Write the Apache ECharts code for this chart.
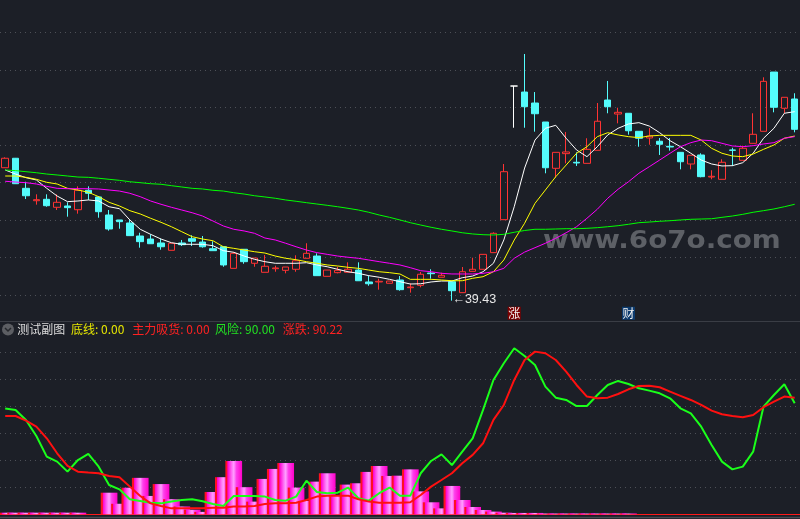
<!DOCTYPE html>
<html><head><meta charset="utf-8">
<script src="https://cdn.jsdelivr.net/npm/echarts@6/dist/echarts.min.js"></script>
<style>html,body{margin:0;padding:0;background:#1c1f27;}#c{width:800px;height:519px;}</style>
</head><body><div id="c"></div>
<script>
// ---- K-line data (open, close, low, high) ----
const opens = [53.58,54.59,51.39,50.07,50.22,49.37,49.51,49.11,51.18,50.47,48.55,48.02,47.70,46.31,45.99,45.57,44.79,45.57,46.03,45.67,44.96,45.17,42.87,44.90,43.41,42.45,42.83,42.66,42.77,43.94,44.18,42.02,42.41,42.45,42.69,41.42,41.42,41.28,41.63,40.81,41.06,42.37,41.92,41.45,40.28,42.55,42.77,44.54,48.05,62.28,61.64,60.47,58.45,53.52,55.08,54.16,54.05,55.44,60.79,59.30,59.38,57.46,56.75,56.40,55.86,55.22,53.98,54.94,52.59,52.35,55.47,54.37,56.18,57.46,63.77,59.91,60.90];
const closes = [54.59,51.88,50.60,50.18,49.54,49.90,49.33,51.18,50.86,48.90,47.06,47.84,46.35,45.71,45.49,45.17,45.54,45.39,45.75,45.17,44.75,43.23,44.47,43.58,43.97,43.09,42.91,43.01,43.68,44.47,42.09,42.69,42.66,42.77,41.55,41.23,41.49,41.52,40.60,40.88,42.24,42.30,42.13,40.49,42.51,42.77,44.36,46.60,53.16,62.28,60.08,59.33,53.58,55.22,55.26,54.09,55.54,58.53,60.08,59.48,57.52,56.72,56.96,56.08,55.79,54.22,54.91,52.63,52.67,54.16,55.44,55.65,57.14,62.78,60.02,61.08,57.67];
const lows = [53.55,51.85,50.25,49.65,49.43,49.08,48.37,48.69,50.15,48.26,46.88,47.09,46.35,45.07,45.49,44.85,44.79,45.25,45.25,45.07,44.72,43.04,42.87,43.36,43.04,42.45,42.51,42.34,42.51,43.94,42.09,42.02,42.34,42.45,41.55,41.02,40.60,41.28,40.49,40.28,40.85,41.77,41.92,39.43,40.28,42.55,42.77,44.54,48.05,57.84,57.84,57.42,52.99,52.52,54.05,53.77,54.05,55.44,59.38,58.31,57.10,55.82,56.03,54.94,55.40,53.41,53.41,52.56,52.35,52.35,53.77,54.37,56.18,57.46,59.48,59.38,57.35];
const highs = [54.69,54.62,52.09,50.75,50.75,50.75,49.90,51.60,51.60,50.57,49.08,48.02,48.02,46.66,46.49,46.03,45.54,45.89,46.39,46.31,45.75,45.17,44.61,44.90,43.97,44.29,43.15,43.01,44.26,45.54,44.47,42.69,43.04,43.51,43.51,42.09,41.77,41.52,42.05,41.28,42.48,42.77,42.41,41.45,43.01,44.00,44.36,46.71,53.98,62.28,65.69,61.64,58.45,55.22,57.39,55.22,56.72,60.47,62.82,59.97,59.38,57.46,57.81,56.75,56.75,55.22,54.91,55.12,53.31,54.48,55.71,55.93,59.38,63.21,63.77,61.08,61.51];

// ---- moving averages ----
const ma5 = [53.34,52.91,52.52,52.28,51.39,50.57,49.97,50.04,50.15,50.04,49.43,49.22,48.02,47.03,46.49,45.99,45.60,45.43,45.43,45.43,45.28,44.75,44.58,44.18,43.83,43.58,43.41,43.41,43.41,43.47,43.23,43.04,42.77,42.51,42.34,42.09,41.92,41.70,41.45,41.20,41.23,41.42,41.52,41.52,41.87,42.05,42.51,43.41,45.89,49.43,53.55,56.53,57.78,58.10,56.72,55.47,54.76,55.82,57.07,57.78,58.24,58.38,58.02,57.31,56.46,55.82,55.12,54.40,53.98,53.77,53.80,54.12,55.12,56.72,57.78,59.38,59.55];
const ma10 = [52.70,52.70,52.56,52.35,52.03,51.85,51.39,51.21,50.97,50.50,49.90,49.51,49.01,48.66,48.20,47.77,47.30,46.77,46.24,45.99,45.81,45.17,45.00,44.82,44.64,44.50,44.18,43.94,43.79,43.58,43.41,43.23,43.12,42.98,42.87,42.69,42.51,42.41,42.27,41.70,41.70,41.70,41.63,41.55,41.55,41.81,41.98,42.51,43.76,45.89,47.67,49.79,51.21,52.63,53.87,55.12,55.82,56.89,57.31,57.07,56.89,56.78,56.96,57.03,57.03,57.03,57.03,56.53,55.65,55.12,54.83,54.76,55.04,55.54,56.00,56.72,56.96];
const ma20 = [52.14,52.06,51.99,51.85,51.60,51.39,51.35,51.35,51.35,51.32,51.21,51.10,50.86,50.50,50.04,49.69,49.37,49.08,48.79,48.44,47.91,47.38,47.03,46.85,46.60,46.10,45.89,45.54,45.17,44.82,44.54,44.36,44.18,44.05,43.94,43.76,43.58,43.41,43.23,42.94,42.62,42.51,42.34,42.27,42.27,42.27,42.34,42.51,42.87,43.94,44.60,45.07,45.54,46.07,46.66,47.30,48.20,49.16,50.33,51.29,52.09,52.99,53.69,54.40,55.12,55.82,56.25,56.53,56.46,56.18,55.90,55.82,55.93,56.11,56.25,56.72,56.89];
const ma60 = [53.34,53.27,53.16,53.05,52.91,52.81,52.70,52.59,52.56,52.46,52.35,52.24,52.09,51.99,51.88,51.82,51.67,51.53,51.39,51.32,51.18,51.10,50.92,50.78,50.60,50.47,50.33,50.15,50.01,49.86,49.72,49.58,49.43,49.26,49.08,48.84,48.55,48.30,48.02,47.73,47.48,47.24,47.03,46.85,46.66,46.53,46.45,46.42,46.49,46.71,46.90,47.03,47.03,47.06,47.09,47.09,47.13,47.20,47.30,47.41,47.56,47.73,47.80,47.88,47.94,48.02,48.09,48.12,48.15,48.30,48.44,48.62,48.84,49.01,49.19,49.43,49.69];

// ---- sub-chart indicator ----
const zhuLiXiHuo = [1.2,1.2,1.2,1.2,1.2,1.2,1.2,1.2,0,0,16.0,7.8,19.7,27.0,13.6,22.4,11.2,5.8,3.4,1.8,16.5,27.5,39.5,20.1,9.4,26.2,33.6,38.0,19.8,9.9,24.2,30.4,13.6,22.0,23.0,31.4,35.8,28.4,28.6,33.3,17.0,8.9,4.4,21.0,10.6,5.4,3.2,2.0,1.2,1.0,1.0,1.0,0.6,0.6,0.6,0.6,0.6,0.6,0.6,0.6,0.6,0,0,0,0,0,0,0,0,0,0,0,0,0,0,0,0];
const fengXian = [78.3,77.3,69.9,58.0,42.7,39.0,31.6,40.2,44.7,35.3,21.7,18.5,11.1,9.9,8.6,8.1,9.4,10.6,11.1,9.6,7.7,6.2,13.6,13.6,13.6,13.1,10.6,10.1,13.1,24.9,16.5,15.6,16.0,19.8,11.9,10.1,15.6,19.8,13.8,13.8,30.4,39.5,44.4,36.5,46.4,56.3,77.3,99.5,111.9,123.0,117.3,110.6,94.6,86.4,84.7,80.2,80.2,88.4,95.8,98.8,96.5,93.3,91.6,89.6,85.9,78.5,74.8,64.9,51.4,39.0,33.3,35.3,46.4,79.8,88.4,96.3,82.2];
const zhangDie = [72.8,72.8,69.4,64.9,56.3,45.2,35.8,31.6,30.9,30.4,28.4,27.4,20.5,13.6,8.1,6.2,4.4,4.4,4.4,4.4,4.9,4.9,5.7,5.7,6.2,7.7,8.1,8.1,8.6,10.6,13.1,13.8,13.8,13.8,11.1,9.4,8.6,8.6,8.6,8.9,14.3,20.5,25.4,30.4,37.8,44.0,52.6,69.9,81.0,99.5,114.3,120.5,119.3,114.3,105.7,95.8,87.2,85.9,86.4,89.1,92.6,95.1,95.3,94.1,90.9,87.7,84.7,81.0,76.8,74.1,72.8,71.9,73.6,79.3,83.5,87.2,86.4];

// header legend
const headerTitle = '测试副图';
const headerItems = ['底线: 0.00', '主力吸货: 0.00', '风险: 90.00', '涨跌: 90.22'];
// event flags
const flagIndex = [49, 60];
const flagText = ['涨', '财'];

const categories = opens.map((_, i) => 'K' + (i + 1));

const UP = '#ff3333', DOWN = '#54fcfc';
const kData = opens.map((o, i) => {
  const item = { value: [o, closes[i], lows[i], highs[i]] };
  if (o === closes[i]) item.itemStyle = { color: 'transparent', color0: 'transparent', borderColor: '#ffffff', borderColor0: '#ffffff' };
  return item;
});

const chart = echarts.init(document.getElementById('c'), null, { renderer: 'canvas' });
const splitStyle = { color: '#4d5057', type: [1, 4], width: 1 };
const cjk = '"Noto Sans CJK SC", sans-serif';

const headerX = [71, 132.3, 215, 282.7];
const headerColors = ['#e6e600', '#ff2222', '#22e022', '#ff2222'];
const flagColors = ['#7d0000', '#0b3a6e'];

const option = {
  backgroundColor: '#1c1f27',
  animation: false,
  grid: [
    { left: -0.9, width: 800.8, top: 32.3, bottom: 186.13 },
    { left: -0.9, width: 800.8, top: 325.3, bottom: 4.7 }
  ],
  xAxis: [
    { type: 'category', data: categories, gridIndex: 0, axisLine: { show: false }, axisTick: { show: false }, axisLabel: { show: false }, splitLine: { show: false } },
    { type: 'category', data: categories, gridIndex: 1, axisLine: { show: true, onZero: true, lineStyle: { color: '#ff1a1a', width: 1 } }, axisTick: { show: false }, axisLabel: { show: false }, splitLine: { show: false } }
  ],
  yAxis: [
    { type: 'value', gridIndex: 0, min: 36, max: 68, interval: 4, axisLine: { show: false }, axisTick: { show: false }, axisLabel: { show: false }, splitLine: { show: true, showMinLine: false, lineStyle: splitStyle } },
    { type: 'value', gridIndex: 1, min: 0, max: 140, interval: 20, axisLine: { show: false }, axisTick: { show: false }, axisLabel: { show: false }, splitLine: { show: true, showMinLine: false, showMaxLine: false, lineStyle: splitStyle } }
  ],
  series: [
    {
      name: 'K', type: 'candlestick', xAxisIndex: 0, yAxisIndex: 0, data: kData, barWidth: 7,
      itemStyle: { color: 'transparent', color0: DOWN, borderColor: UP, borderColor0: DOWN, borderWidth: 1 },
      markPoint: {
        silent: true, animation: false,
        data: [
          { type: 'min', valueDim: 'lowest', symbol: 'circle', symbolSize: 1, itemStyle: { color: 'rgba(0,0,0,0)' },
            label: { show: true, position: 'right', distance: 0, offset: [0, -1], color: '#e8e8e8', fontSize: 12.5, fontFamily: '"Liberation Sans", sans-serif',
              formatter: p => '←' + p.value } }
        ].concat(flagIndex.map((idx, k) => ({
          coord: [categories[idx], 38.09], symbol: 'rect', symbolSize: [13, 13], itemStyle: { color: flagColors[k] },
          label: { show: true, position: 'inside', formatter: flagText[k], color: '#f2f2f2', fontSize: 12, fontFamily: cjk }
        })))
      }
    },
    { name: 'MA5', type: 'line', data: ma5, symbol: 'none', lineStyle: { color: '#ffffff', width: 1 }, xAxisIndex: 0, yAxisIndex: 0 },
    { name: 'MA10', type: 'line', data: ma10, symbol: 'none', lineStyle: { color: '#ffff00', width: 1 }, xAxisIndex: 0, yAxisIndex: 0 },
    { name: 'MA20', type: 'line', data: ma20, symbol: 'none', lineStyle: { color: '#ff00ff', width: 1 }, xAxisIndex: 0, yAxisIndex: 0 },
    { name: 'MA60', type: 'line', data: ma60, symbol: 'none', lineStyle: { color: '#00ff00', width: 1 }, xAxisIndex: 0, yAxisIndex: 0 },
    {
      name: '主力吸货', type: 'bar', xAxisIndex: 1, yAxisIndex: 1, data: zhuLiXiHuo, barWidth: 16.7,
      itemStyle: { color: new echarts.graphic.LinearGradient(0, 0, 1, 0, [
        { offset: 0, color: '#ff1020' }, { offset: 0.1, color: '#ff1020' }, { offset: 0.14, color: '#ff00d0' },
        { offset: 0.38, color: '#ff70f6' }, { offset: 0.5, color: '#ffa0ff' }, { offset: 0.66, color: '#ff40ec' }, { offset: 1, color: '#ff00c8' }
      ]) }
    },
    { name: '风险', type: 'line', xAxisIndex: 1, yAxisIndex: 1, data: fengXian, symbol: 'none', lineStyle: { color: '#1aff1a', width: 2 } },
    { name: '涨跌', type: 'line', xAxisIndex: 1, yAxisIndex: 1, data: zhangDie, symbol: 'none', lineStyle: { color: '#ff1010', width: 2 } }
  ],
  graphic: [
    { type: 'line', silent: true, shape: { x1: 0, y1: 321.5, x2: 800, y2: 321.5 }, style: { stroke: '#3a3d45', lineWidth: 1 } },
    { type: 'line', silent: true, shape: { x1: 0, y1: 517.5, x2: 800, y2: 517.5 }, style: { stroke: '#474a52', lineWidth: 1.5 } },
    { type: 'circle', silent: true, shape: { cx: 8, cy: 329.5, r: 6 }, style: { fill: '#5c5e63' } },
    { type: 'polyline', silent: true, shape: { points: [[5, 328], [8, 331], [11, 328]] }, style: { stroke: '#25272c', lineWidth: 1.5, fill: null } },
    { type: 'text', silent: true, style: { x: 17.3, y: 329.5, text: headerTitle, fill: '#dcdcdc', font: '12px ' + cjk, verticalAlign: 'middle', textVerticalAlign: 'middle' } },
    ...headerItems.map((t, k) => ({ type: 'text', silent: true, style: { x: headerX[k], y: 329.5, text: t, fill: headerColors[k], font: '12px ' + cjk, verticalAlign: 'middle', textVerticalAlign: 'middle' } })),
    { type: 'text', silent: true, z: 0, x: 543, y: 241, scaleX: 1.09, style: { x: 0, y: 0, text: 'www.6o7o.com', fill: '#5d6066', font: 'bold 25.5px "DejaVu Sans"', verticalAlign: 'middle', textVerticalAlign: 'middle' } }
  ]
};
chart.setOption(option);
</script>
</body></html>
